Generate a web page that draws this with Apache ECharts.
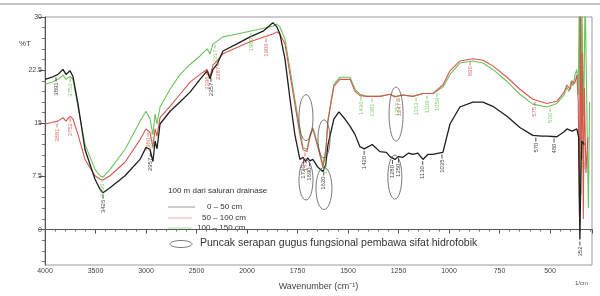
<!DOCTYPE html>
<html>
<head>
<meta charset="utf-8">
<script src="https://cdn.jsdelivr.net/npm/echarts@6/dist/echarts.min.js"></script>
<style>
  html, body { margin: 0; padding: 0; background: #fff; }
  #main { width: 600px; height: 296px; }
</style>
</head>
<body>
<div id="main"></div>
<script>
// FTIR spektra tanah, 100 m dari saluran drainase
// [wavenumber (cm-1), %T]
const depth0to50 = [
  [4000, 21.2], [3931, 21.5], [3871, 21.9], [3822, 22.6], [3792, 21.9], [3752, 22.4], [3723, 21.6],
  [3673, 17.7], [3604, 11.3], [3505, 7.1], [3455, 5.7], [3426, 5.2], [3356, 5.9], [3208, 7.6],
  [3059, 9.9], [3000, 11.6], [2960, 11.3], [2931, 9.6], [2910, 12.5], [2891, 11.4], [2861, 14.9],
  [2762, 16.7], [2663, 18.0], [2564, 19.4], [2465, 21.2], [2396, 22.4], [2366, 21.3], [2337, 22.6],
  [2297, 23.3], [2238, 25.2], [2100, 26.2], [1985, 27.2], [1920, 28.0], [1872, 29.2], [1852, 28.6],
  [1837, 27.6], [1812, 24.1], [1787, 18.4], [1763, 13.4], [1738, 9.9], [1723, 10.2], [1710, 9.6],
  [1700, 10.1], [1688, 9.7], [1674, 9.9], [1649, 8.8], [1624, 8.2], [1610, 9.2], [1599, 12.0],
  [1570, 15.6], [1545, 16.6], [1515, 15.6], [1490, 14.6], [1465, 13.4], [1441, 11.7], [1420, 11.4],
  [1406, 11.6], [1380, 12.0], [1342, 11.0], [1310, 10.9], [1292, 10.3], [1268, 9.9], [1250, 10.3],
  [1228, 10.2], [1200, 10.8], [1179, 10.6], [1154, 10.8], [1129, 9.9], [1105, 10.6], [1080, 10.6],
  [1050, 10.8], [1030, 10.9], [995, 14.9], [946, 17.3], [882, 18.0], [832, 18.0], [783, 17.4],
  [713, 16.0], [649, 14.4], [585, 13.3], [540, 13.2], [515, 13.2], [466, 13.1], [430, 13.8],
  [416, 14.2], [390, 13.9], [367, 14.2], [358, 13.0], [352, -1.4], [347, 8.0], [342, 12.5], [330, 12.0]
];
const depth50to100 = [
  [4000, 14.9], [3931, 15.1], [3871, 15.3], [3822, 15.8], [3792, 15.3], [3752, 16.0], [3723, 15.6],
  [3673, 13.4], [3604, 9.9], [3505, 7.6], [3455, 7.1], [3426, 7.0], [3356, 7.6], [3208, 9.5],
  [3059, 12.7], [3000, 14.2], [2960, 13.7], [2931, 11.6], [2910, 14.2], [2891, 13.2], [2861, 15.8],
  [2762, 17.4], [2663, 19.1], [2564, 20.8], [2465, 21.9], [2396, 22.6], [2366, 21.6], [2337, 23.2],
  [2297, 23.8], [2238, 24.8], [2100, 25.7], [1985, 26.5], [1872, 27.6], [1852, 27.9], [1837, 27.6],
  [1812, 26.2], [1787, 21.9], [1763, 17.7], [1738, 13.4], [1723, 11.3], [1703, 11.0], [1688, 13.2],
  [1674, 14.2], [1649, 11.6], [1624, 8.8], [1610, 11.0], [1599, 15.3], [1570, 20.2], [1540, 21.2],
  [1490, 21.2], [1465, 19.5], [1441, 18.9], [1406, 18.8], [1342, 18.8], [1292, 19.1], [1268, 18.7],
  [1228, 19.0], [1179, 18.8], [1129, 19.2], [1080, 19.2], [1030, 20.4], [995, 22.4], [946, 23.8],
  [882, 24.1], [832, 23.9], [783, 23.1], [713, 21.5], [649, 19.8], [585, 18.4], [515, 17.8],
  [466, 18.1], [430, 19.4], [416, 20.4], [400, 19.8], [390, 21.0], [378, 20.6], [367, 21.8],
  [360, 18.0], [354, 2.0], [350, 33], [345, 10], [340, 25], [335, 1.5], [330, 20], [322, 8], [312, 13]
];
const depth100to150 = [
  [4000, 20.5], [3931, 20.8], [3871, 21.2], [3822, 21.8], [3792, 21.2], [3752, 21.6], [3723, 21.2],
  [3673, 17.3], [3604, 12.0], [3505, 8.5], [3455, 7.6], [3426, 7.4], [3356, 8.5], [3208, 11.3],
  [3059, 15.3], [3000, 16.7], [2960, 15.6], [2931, 13.4], [2910, 16.3], [2891, 14.9], [2861, 17.3],
  [2762, 19.8], [2663, 21.9], [2564, 23.3], [2465, 24.5], [2396, 25.5], [2366, 24.8], [2337, 26.2],
  [2297, 26.6], [2238, 27.2], [2100, 27.6], [1985, 28.0], [1872, 28.7], [1852, 29.0], [1837, 28.6],
  [1812, 26.9], [1787, 22.6], [1763, 18.4], [1738, 14.2], [1723, 11.6], [1703, 11.3], [1688, 13.4],
  [1674, 14.4], [1649, 12.0], [1624, 9.2], [1610, 11.3], [1599, 15.6], [1570, 20.5], [1540, 21.5],
  [1490, 21.5], [1465, 19.8], [1441, 19.1], [1406, 18.8], [1342, 18.8], [1292, 19.1], [1268, 18.8],
  [1228, 19.0], [1179, 18.8], [1129, 19.2], [1080, 19.2], [1030, 20.1], [995, 21.9], [946, 23.5],
  [882, 23.8], [832, 23.5], [783, 22.6], [713, 20.9], [649, 19.1], [585, 17.7], [515, 17.3],
  [466, 17.8], [430, 19.0], [416, 20.1], [405, 19.5], [395, 21.0], [385, 20.3], [375, 22.0],
  [367, 22.6], [360, 19.0], [355, 33], [350, 33], [347, 5], [343, 33], [337, 33], [333, 16],
  [326, 33], [318, 33], [310, 3], [304, 18]
];

// label puncak (cm-1)
const peaks0to50 = [3891, 3426, 2957, 2357, 1720, 1690, 1620, 1420, 1280, 1250, 1130, 1035, 570, 480, 352];
const peaks50to100 = [3881, 3752, 2980, 2396, 2287, 1906, 1713, 1247, 896, 575, 337];
const peaks100to150 = [3752, 3436, 2941, 2317, 1980, 1614, 1436, 1381, 1257, 1163, 1109, 1059, 500];

// elips: [wavenumber, %T, rx, ry]
const hydrophobicPeaks = [
  [1708, 15.8, 7, 23], [1708, 7.0, 7, 20],
  [1619, 12.8, 6, 19], [1619, 5.8, 8, 21],
  [1262, 16.3, 7, 27], [1268, 7.4, 7, 22]
];

const xTickLabels = ['4000', '3500', '3000', '2500', '2000', '1750', '1500', '1250', '1000', '750', '500'];
const yTickValues = [0, 7.5, 15, 22.5, 30];

const colors = ['#1e1e1e', '#d4574e', '#6cc25e'];
const names = ['0 – 50 cm', '50 – 100 cm', '100 – 150 cm'];

// skala sumbu x berubah di 2000 cm-1 (2x lebih rapat di bawahnya)
function toT(w) {
  return w >= 2000 ? 4000 - w : 2000 + (2000 - w) * 2;
}

function valueAt(curve, w) {
  for (let i = 0; i < curve.length - 1; i++) {
    const a = curve[i], b = curve[i + 1];
    if (w <= a[0] && w >= b[0]) {
      const f = (a[0] - w) / (a[0] - b[0]);
      return a[1] + (b[1] - a[1]) * f;
    }
  }
  return curve[curve.length - 1][1];
}

function lineSeries(curve, i) {
  return {
    name: names[i],
    type: 'line',
    data: curve.map((p) => [toT(p[0]), p[1]]),
    showSymbol: false,
    lineStyle: { color: colors[i], width: i === 0 ? 1.3 : 1.1 },
    itemStyle: { color: colors[i] },
    z: 3 - i,
    silent: true
  };
}

function peakSeries(curve, peaks, i) {
  return {
    type: 'custom',
    silent: true,
    z: 5,
    data: peaks.map((w) => [toT(w), valueAt(curve, w), w]),
    renderItem: function (params, api) {
      const p = api.coord([api.value(0), api.value(1)]);
      return {
        type: 'group',
        children: [
          { type: 'line', shape: { x1: p[0], y1: p[1] + 2, x2: p[0], y2: p[1] + 6 }, style: { stroke: colors[i], lineWidth: 0.8 } },
          {
            type: 'text', x: p[0], y: p[1] + 7, rotation: Math.PI / 2,
            style: { text: String(api.value(2)), fontSize: 6, fontFamily: 'Liberation Sans', fill: colors[i], align: 'right', verticalAlign: 'middle', opacity: 0.85 }
          }
        ]
      };
    }
  };
}

let minorY = [];
for (let v = -4.5; v <= 30; v += 1.5) {
  if (Math.abs(v / 7.5 - Math.round(v / 7.5)) > 1e-6) minorY.push(v);
}

let myChart = echarts.init(document.getElementById('main'), null, { renderer: 'canvas' });

let option = {
  backgroundColor: '#fff',
  animation: false,
  textStyle: { fontFamily: 'Liberation Sans' },
  grid: { left: 45, right: 8, top: 17, bottom: 30, show: true, borderColor: '#9a9a9a', borderWidth: 1 },
  xAxis: {
    type: 'value',
    min: 0,
    max: 5416,
    interval: 500,
    name: 'Wavenumber (cm⁻¹)',
    nameLocation: 'middle',
    nameGap: 17,
    nameTextStyle: { fontSize: 9, color: '#444' },
    axisLine: { lineStyle: { color: '#555' } },
    axisTick: { length: 4, lineStyle: { color: '#555' } },
    minorTick: { show: true, splitNumber: 5, length: 2, lineStyle: { color: '#777' } },
    splitLine: { show: false },
    axisLabel: {
      fontSize: 7,
      color: '#444',
      margin: 3,
      formatter: function (t) {
        const k = Math.round(t / 500);
        return Math.abs(t - k * 500) < 1e-6 && k < xTickLabels.length ? xTickLabels[k] : '';
      }
    }
  },
  yAxis: [
    {
      type: 'value',
      min: -5,
      max: 30,
      axisLine: { show: true, lineStyle: { color: '#555' } },
      axisTick: { show: true, length: 6, customValues: yTickValues, lineStyle: { color: '#555' } },
      axisLabel: { fontSize: 7, color: '#444', margin: 3, customValues: yTickValues },
      splitLine: { show: false }
    },
    {
      type: 'value',
      min: -5,
      max: 30,
      position: 'left',
      axisLine: { show: false },
      axisTick: { show: true, length: 3, customValues: minorY, lineStyle: { color: '#777' } },
      axisLabel: { show: false },
      splitLine: { show: false }
    }
  ],
  series: [
    lineSeries(depth0to50, 0),
    lineSeries(depth50to100, 1),
    lineSeries(depth100to150, 2),
    peakSeries(depth0to50, peaks0to50, 0),
    peakSeries(depth50to100, peaks50to100, 1),
    peakSeries(depth100to150, peaks100to150, 2),
    {
      type: 'custom',
      silent: true,
      z: 6,
      data: hydrophobicPeaks.map((e) => [toT(e[0]), e[1], e[2], e[3]]),
      renderItem: function (params, api) {
        const p = api.coord([api.value(0), api.value(1)]);
        return {
          type: 'ellipse',
          shape: { cx: p[0], cy: p[1], rx: api.value(2), ry: api.value(3) },
          style: { fill: 'none', stroke: '#555', lineWidth: 0.8 }
        };
      }
    }
  ],
  graphic: [
    { type: 'line', shape: { x1: 0, y1: 4, x2: 600, y2: 4 }, style: { stroke: '#c4c4c4', lineWidth: 2 } },
    { type: 'text', x: 19, y: 40, style: { text: '%T', fontSize: 8, fill: '#444' } },
    { type: 'text', x: 575, y: 280, style: { text: '1/cm', fontSize: 6, fill: '#555' } },
    // legenda
    { type: 'text', x: 168, y: 187, style: { text: '100 m dari saluran drainase', fontSize: 8, fill: '#333' } },
    { type: 'line', shape: { x1: 168, y1: 207, x2: 195, y2: 207 }, style: { stroke: colors[0], lineWidth: 0.8, opacity: 0.6 } },
    { type: 'text', x: 207, y: 203, style: { text: names[0], fontSize: 8, fill: '#333' } },
    { type: 'line', shape: { x1: 168, y1: 218, x2: 192, y2: 218 }, style: { stroke: colors[1], lineWidth: 0.8, opacity: 0.6 } },
    { type: 'text', x: 202, y: 214, style: { text: names[1], fontSize: 8, fill: '#333' } },
    { type: 'line', shape: { x1: 168, y1: 228, x2: 192, y2: 228 }, style: { stroke: colors[2], lineWidth: 0.8, opacity: 0.7 } },
    { type: 'text', x: 197, y: 224, style: { text: names[2], fontSize: 8, fill: '#333' } },
    { type: 'ellipse', shape: { cx: 181, cy: 244, rx: 11, ry: 3.5 }, style: { fill: 'none', stroke: '#555', lineWidth: 0.8 } },
    { type: 'text', x: 200, y: 238, style: { text: 'Puncak serapan gugus fungsional pembawa sifat hidrofobik', fontSize: 10.5, fill: '#333' } }
  ]
};

option && myChart.setOption(option);
</script>
</body>
</html>
